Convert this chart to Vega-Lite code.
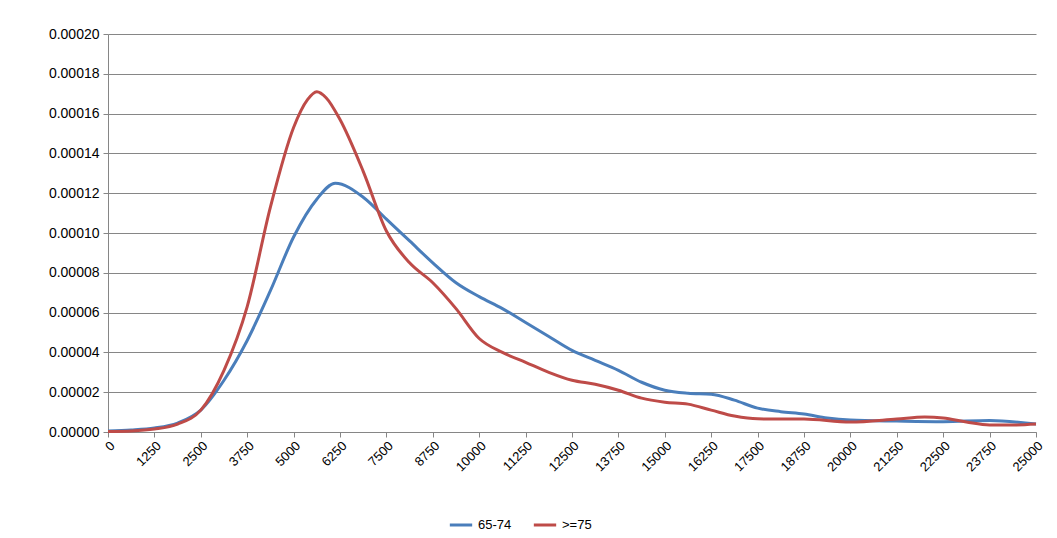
{
  "$schema": "https://vega.github.io/schema/vega-lite/v6.json",
  "width": 928,
  "height": 398,
  "padding": {"left": 48, "top": 27, "right": 18, "bottom": 5},
  "autosize": {"type": "pad"},
  "background": "white",
  "config": {"view": {"stroke": null}, "font": "Liberation Sans"},
  "data": {
    "values": [
      {"x":0,"s":"65-74","y":0.0000005},{"x":625,"s":"65-74","y":0.000001},{"x":1250,"s":"65-74","y":0.000002},{"x":1875,"s":"65-74","y":0.0000045},{"x":2500,"s":"65-74","y":0.000011},{"x":3125,"s":"65-74","y":0.000026},{"x":3750,"s":"65-74","y":0.000046},{"x":4375,"s":"65-74","y":0.000071},{"x":5000,"s":"65-74","y":0.000098},{"x":5625,"s":"65-74","y":0.000117},{"x":6125,"s":"65-74","y":0.000125},{"x":6875,"s":"65-74","y":0.000118},{"x":7500,"s":"65-74","y":0.000107},{"x":8125,"s":"65-74","y":0.000096},{"x":8750,"s":"65-74","y":0.000085},{"x":9375,"s":"65-74","y":0.000075},{"x":10000,"s":"65-74","y":0.000068},{"x":10625,"s":"65-74","y":0.000062},{"x":11250,"s":"65-74","y":0.000055},{"x":11875,"s":"65-74","y":0.000048},{"x":12500,"s":"65-74","y":0.000041},{"x":13125,"s":"65-74","y":0.000036},{"x":13750,"s":"65-74","y":0.000031},{"x":14375,"s":"65-74","y":0.000025},{"x":15000,"s":"65-74","y":0.000021},{"x":15625,"s":"65-74","y":0.0000195},{"x":16250,"s":"65-74","y":0.000019},{"x":16875,"s":"65-74","y":0.000016},{"x":17500,"s":"65-74","y":0.000012},{"x":18125,"s":"65-74","y":0.0000102},{"x":18750,"s":"65-74","y":0.000009},{"x":19375,"s":"65-74","y":0.000007},{"x":20000,"s":"65-74","y":0.000006},{"x":21250,"s":"65-74","y":0.0000055},{"x":22500,"s":"65-74","y":0.0000052},{"x":23750,"s":"65-74","y":0.0000058},{"x":25000,"s":"65-74","y":0.000004},
      {"x":0,"s":">=75","y":0.0000002},{"x":625,"s":">=75","y":0.0000005},{"x":1250,"s":">=75","y":0.0000015},{"x":1875,"s":">=75","y":0.000004},{"x":2500,"s":">=75","y":0.000011},{"x":3125,"s":">=75","y":0.000031},{"x":3750,"s":">=75","y":0.000063},{"x":4375,"s":">=75","y":0.000113},{"x":5000,"s":">=75","y":0.000153},{"x":5375,"s":">=75","y":0.000167},{"x":5625,"s":">=75","y":0.000171},{"x":5875,"s":">=75","y":0.000168},{"x":6250,"s":">=75","y":0.000157},{"x":6875,"s":">=75","y":0.000131},{"x":7500,"s":">=75","y":0.000101},{"x":8125,"s":">=75","y":0.000085},{"x":8750,"s":">=75","y":0.000075},{"x":9375,"s":">=75","y":0.000062},{"x":10000,"s":">=75","y":0.000047},{"x":10625,"s":">=75","y":0.000040},{"x":11250,"s":">=75","y":0.000035},{"x":11875,"s":">=75","y":0.000030},{"x":12500,"s":">=75","y":0.000026},{"x":13125,"s":">=75","y":0.000024},{"x":13750,"s":">=75","y":0.000021},{"x":14375,"s":">=75","y":0.000017},{"x":15000,"s":">=75","y":0.000015},{"x":15625,"s":">=75","y":0.000014},{"x":16250,"s":">=75","y":0.000011},{"x":16875,"s":">=75","y":0.000008},{"x":17500,"s":">=75","y":0.0000066},{"x":18750,"s":">=75","y":0.0000065},{"x":20000,"s":">=75","y":0.000005},{"x":21250,"s":">=75","y":0.0000065},{"x":22000,"s":">=75","y":0.0000075},{"x":22500,"s":">=75","y":0.000007},{"x":23125,"s":">=75","y":0.000005},{"x":23750,"s":">=75","y":0.0000035},{"x":24375,"s":">=75","y":0.0000035},{"x":25000,"s":">=75","y":0.000004}
    ]
  },
  "mark": {"type": "line", "strokeWidth": 3, "interpolate": "monotone"},
  "encoding": {
    "x": {"field": "x", "type": "quantitative", "scale": {"domain": [0, 25000], "nice": false},
      "axis": {"title": null, "values": [0,1250,2500,3750,5000,6250,7500,8750,10000,11250,12500,13750,15000,16250,17500,18750,20000,21250,22500,23750,25000],
        "labelAngle": -45, "labelAlign": "right", "labelBaseline": "top", "labelFontSize": 13, "labelColor": "black", "grid": false, "domainColor": "#868686", "tickColor": "#868686", "format": "d"}},
    "y": {"field": "y", "type": "quantitative", "scale": {"domain": [0, 0.0002], "nice": false},
      "axis": {"title": null, "values": [0,0.00002,0.00004,0.00006,0.00008,0.0001,0.00012,0.00014,0.00016,0.00018,0.0002], "format": ".5f",
        "labelFontSize": 14, "labelColor": "black", "gridColor": "#868686", "domainColor": "#868686", "tickColor": "#868686", "labelPadding": 4}},
    "color": {"field": "s", "type": "nominal", "sort": ["65-74", ">=75"],
      "scale": {"domain": ["65-74", ">=75"], "range": ["#4a7ebb", "#be4b48"]},
      "legend": {"title": null, "orient": "none", "legendX": 340, "legendY": 478, "direction": "horizontal", "symbolType": "stroke", "symbolStrokeWidth": 3, "symbolSize": 500, "labelFontSize": 13, "labelColor": "black", "columnPadding": 15}}
  }
}
